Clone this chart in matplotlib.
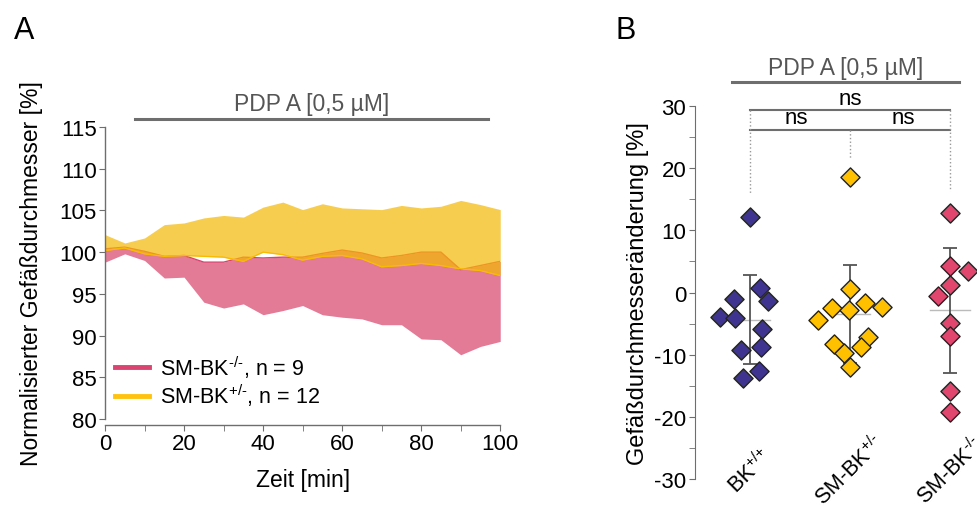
import numpy as np
import matplotlib
matplotlib.use("Agg")
import matplotlib.pyplot as plt
from matplotlib.ticker import MultipleLocator

plt.rcParams['font.family'] = ['Liberation Sans', 'DejaVu Sans']
plt.rcParams['mathtext.fontset'] = 'custom'
plt.rcParams['mathtext.rm'] = 'Liberation Sans'
plt.rcParams['mathtext.it'] = 'Liberation Sans'
plt.rcParams['axes.unicode_minus'] = False

# --- Panel A data (time course, band edges) ---
zeit = [0, 5, 10, 15, 20, 25, 30, 35, 40, 45, 50, 55, 60, 65, 70, 75, 80, 85, 90, 95, 100]
# SM-BK+/- (yellow band: mean .. mean + SEM)
gelb_unten = [100.2, 100.5, 99.8, 99.5, 99.6, 99.5, 99.4, 98.9, 100.0, 99.7, 99.05,
              99.5, 99.6, 99.2, 98.25, 98.4, 98.65, 98.4, 98.0, 97.8, 97.2]
gelb_oben = [102.1, 101.1, 101.7, 103.3, 103.5, 104.1, 104.4, 104.2, 105.4, 106.0, 105.1,
             105.8, 105.3, 105.2, 105.1, 105.6, 105.3, 105.5, 106.2, 105.7, 105.1]
# SM-BK-/- (pink band: mean - SEM .. mean)
rosa_unten = [98.8, 99.8, 99.0, 96.9, 97.0, 94.0, 93.3, 93.8, 92.5, 93.0, 93.6,
              92.5, 92.2, 92.0, 91.3, 91.3, 89.6, 89.5, 87.7, 88.7, 89.3]
rosa_oben = [100.4, 100.6, 100.1, 99.5, 99.6, 98.8, 98.8, 99.4, 99.3, 99.4, 99.4,
             99.85, 100.25, 99.9, 99.3, 99.6, 100.0, 100.0, 97.9, 98.4, 98.9]

# --- Panel B data (scatter, diamond markers) ---
gruppen = ['BK$^{\\text{+/+}}$', 'SM-BK$^{\\text{+/-}}$', 'SM-BK$^{\\text{-/-}}$']
bk_wt = [12.1, -4.0, -1.0, -4.1, -9.3, -13.8, -12.7, 0.7, -1.3, -5.8, -8.7]
bk_wt_dx = [0, -0.30, -0.157, -0.147, -0.09, -0.063, 0.093, 0.10, 0.183, 0.127, 0.117]
sm_het = [18.55, -4.4, -2.5, -8.3, -9.65, 0.6, -2.8, -12.0, -1.7, -2.4, -7.2, -8.7]
sm_het_dx = [0, -0.317, -0.177, -0.163, -0.057, 0, -0.007, 0, 0.15, 0.317, 0.183, 0.107]
sm_ko = [12.8, -0.5, 4.3, 3.5, 1.2, -4.9, -7.0, -15.8, -19.2]
sm_ko_dx = [0, -0.117, 0, 0.177, 0, 0, 0, 0, 0]

pink = '#E0466E'
yellow = '#FFC000'
blue = '#3F3590'
grau = '#6E6E6E'

fig = plt.figure(figsize=(9.77, 5.10), dpi=100)

# ---------------- Panel A ----------------
ax1 = fig.add_axes([0.1075, 0.1765, 0.4045, 0.5725])
ax1.fill_between(zeit, rosa_unten, rosa_oben, color='#E37A96', lw=0, zorder=1)
ax1.fill_between(zeit, gelb_unten, gelb_oben, color='#F5B904', alpha=0.7, lw=0, zorder=2)
ax1.plot(zeit, rosa_oben, color='#D94470', lw=1.0, zorder=1.5)
ax1.plot(zeit, gelb_unten, color=yellow, lw=1.0, zorder=1.5)

l1, = ax1.plot([], [], color='#D94470', lw=3.5)
l2, = ax1.plot([], [], color='#FFC20E', lw=3.5)
ax1.legend([l1, l2], ['SM-BK$^{\\text{-/-}}$, n = 9', 'SM-BK$^{\\text{+/-}}$, n = 12'],
           loc='lower left', bbox_to_anchor=(-0.025, -0.03), frameon=False,
           fontsize=15.5, handlelength=1.6, handletextpad=0.5, labelspacing=0.1)

ax1.set_xlim(0, 100)
ax1.set_ylim(80, 115)
ax1.set_xticks(range(0, 101, 20))
ax1.xaxis.set_minor_locator(MultipleLocator(10))
ax1.set_yticks(range(80, 116, 5))
ax1.spines['top'].set_visible(False)
ax1.spines['right'].set_visible(False)
ax1.spines['bottom'].set_position(('outward', 4))
for s in ['left', 'bottom']:
    ax1.spines[s].set_color(grau)
    ax1.spines[s].set_linewidth(1.0)
ax1.tick_params(which='both', direction='out', length=4, color=grau, labelsize=16, pad=2)
ax1.set_xlabel('Zeit [min]', fontsize=16.5, labelpad=10)
ax1.set_ylabel('Normalisierter Gefäßdurchmesser [%]', fontsize=16.5, labelpad=12)

ax1.plot([7.6, 97], [115.96, 115.96], color=grau, lw=2.2, clip_on=False)
ax1.text(52.3, 116.4, 'PDP A [0,5 µM]', ha='center', va='bottom', fontsize=16.5, color='#555555')

# ---------------- Panel B ----------------
ax2 = fig.add_axes([0.711, 0.0588, 0.289, 0.7312])
reihen = [(bk_wt, bk_wt_dx, blue), (sm_het, sm_het_dx, yellow), (sm_ko, sm_ko_dx, pink)]
for i, (werte, dx, farbe) in enumerate(reihen):
    werte = np.array(werte)
    m = werte.mean()
    sd = werte.std(ddof=1)
    ax2.plot([i - 0.2, i + 0.2], [m, m], color='#BBBBBB', lw=1.0, zorder=1)
    ax2.errorbar(i, m, yerr=sd, fmt='none', ecolor='#555555', elinewidth=1.3,
                 capsize=5, capthick=1.3, zorder=2)
    ax2.scatter(np.array(dx) + i, werte, marker='D', s=95, color=farbe,
                edgecolors='#222222', linewidths=1.0, zorder=3)

ax2.set_xlim(-0.55, 2.27)
ax2.set_ylim(-30, 30)
ax2.set_yticks(range(-30, 31, 10))
ax2.yaxis.set_minor_locator(MultipleLocator(5))
ax2.set_xticks([])
for i, g in enumerate(gruppen):
    ax2.text(i, -28.6, g, rotation=45, ha='center', va='center',
             rotation_mode='anchor', fontsize=15.5, clip_on=False)
for s in ['top', 'right', 'bottom']:
    ax2.spines[s].set_visible(False)
ax2.spines['left'].set_color(grau)
ax2.tick_params(axis='y', which='both', direction='out', length=4, color=grau, labelsize=16, pad=2)
ax2.set_ylabel('Gefäßdurchmesseränderung [%]', fontsize=17, labelpad=4)

# significance brackets
ax2.plot([0, 2], [29.4, 29.4], color=grau, lw=1.5, clip_on=False)
ax2.plot([0, 2], [26.2, 26.2], color=grau, lw=1.5, clip_on=False)
ax2.plot([0, 0], [29.4, 15.9], color='#999999', lw=1.0, ls=':', clip_on=False)
ax2.plot([2, 2], [29.4, 16.4], color='#999999', lw=1.0, ls=':', clip_on=False)
ax2.plot([1, 1], [26.2, 21.5], color='#999999', lw=1.0, ls=':', clip_on=False)
ax2.text(1, 29.6, 'ns', ha='center', va='bottom', fontsize=16)
ax2.text(0.47, 26.4, 'ns', ha='center', va='bottom', fontsize=16)
ax2.text(1.53, 26.4, 'ns', ha='center', va='bottom', fontsize=16)

ax2.plot([-0.18, 2.09], [33.8, 33.8], color=grau, lw=2.2, clip_on=False)
ax2.text(0.96, 34.3, 'PDP A [0,5 µM]', ha='center', va='bottom', fontsize=16.5, color='#555555')

fig.text(0.025, 0.94, 'A', fontsize=22, va='center', ha='center')
fig.text(0.64, 0.94, 'B', fontsize=22, va='center', ha='center')

fig.savefig('out.png', dpi=100)
